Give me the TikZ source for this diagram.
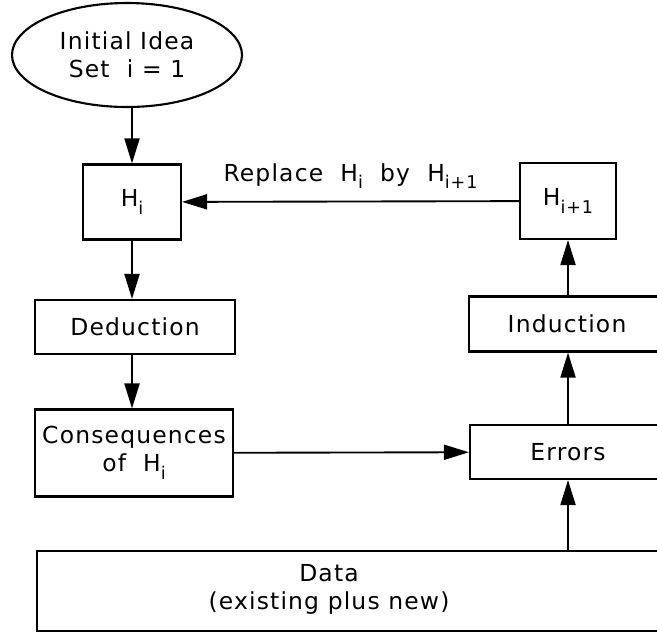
\documentclass[tikz,border=0pt]{standalone}
\usepackage{fontspec}
\setmainfont{DejaVu Sans}[LetterSpace=5]
\usetikzlibrary{arrows.meta,shapes.geometric}
\newcommand{\hsub}[1]{\raisebox{-0.6ex}{\fontsize{15}{17}\selectfont #1}}

\begin{document}
\begin{tikzpicture}[x=0.3mm,y=-0.3mm,
    caixa/.style={
        rectangle, draw, line width=1.8pt,
        align=center, inner sep=0pt
    },
    seta/.style={-{Triangle[length=7.5mm,width=4.5mm]}, line width=1.6pt}]
    \fontsize{20}{24}\selectfont
    \clip (0,0) rectangle (657,633);

    \node [caixa, ellipse, minimum width=69mm, minimum height=31.2mm] (ideia) at (127, 55) {Initial Idea\\Set \ i = 1};
    \node [caixa, minimum width=29.4mm, minimum height=22.5mm] (hi) at (132, 202) {H\hsub{i}};
    \node [caixa, minimum width=60mm, minimum height=16.2mm] (deducao) at (135, 327) {Deduction};
    \node [caixa, minimum width=59.4mm, minimum height=26.1mm] (consequencias) at (134, 453) {Consequences\\of \ H\hsub{i}};

    \node [caixa, minimum width=28.8mm, minimum height=22.8mm] (hmais) at (568, 201) {H\hsub{i+1}};
    \node [caixa, minimum width=58.8mm, minimum height=16.5mm] (inducao) at (567, 324) {Induction};
    \node [caixa, minimum width=58.8mm, minimum height=16.2mm] (erros) at (568, 452) {Errors};

    \node [caixa, minimum width=198.9mm, minimum height=24mm] (dados) at (368.5, 591) {};
    \node [align=center] (dadostxt) at (329, 589) {Data\\(existing plus new)};

    \draw [seta] (ideia.south -| hi) -- (hi);
    \draw [seta] (hi) -- (hi |- deducao.north);
    \draw [seta] (hi |- deducao.south) -- (hi |- consequencias.north);
    \draw [seta] (consequencias) -- (erros);
    \draw [seta] (dados.north -| erros) -- (erros);
    \draw [seta] (erros) -- (erros |- inducao.south);
    \draw [seta] (erros |- inducao.north) -- (hmais);
    \draw [seta] (hmais) -- node [above=1.2mm] {Replace \ H\hsub{i} \ by \ H\hsub{i+1}} (hi);
\end{tikzpicture}
\end{document}
